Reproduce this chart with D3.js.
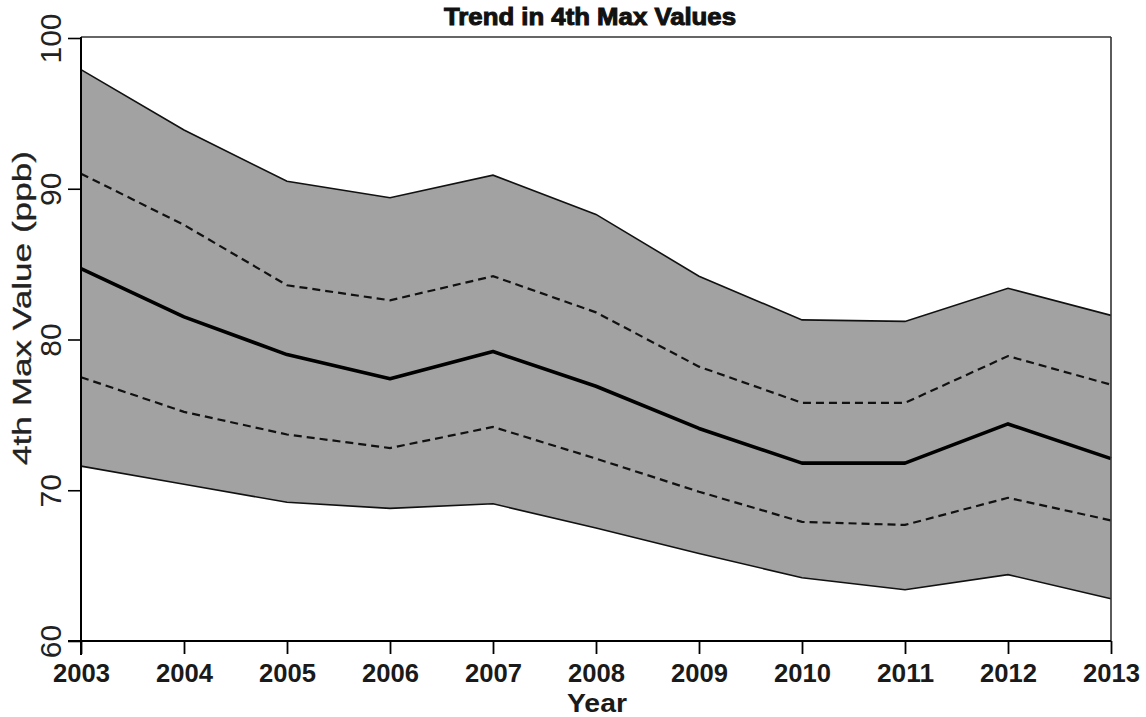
<!DOCTYPE html>
<html>
<head>
<meta charset="utf-8">
<script src="https://cdn.jsdelivr.net/npm/d3@7"></script>
<style>
  html, body { margin: 0; padding: 0; background: #fff; }
  svg { display: block; font-family: "Liberation Sans", Arial, sans-serif; }
</style>
</head>
<body>
<svg id="chart" width="1146" height="717"></svg>
<script>
// Yearly trend of the 4th maximum value with its confidence bands
const years    = [2003, 2004, 2005, 2006, 2007, 2008, 2009, 2010, 2011, 2012, 2013];
const upperPI  = [97.9, 93.9, 90.5, 89.4, 90.9, 88.3, 84.2, 81.3, 81.2, 83.4, 81.6];
const upperCI  = [91.0, 87.6, 83.6, 82.6, 84.2, 81.8, 78.2, 75.8, 75.8, 78.9, 77.0];
const trend    = [84.7, 81.5, 79.0, 77.4, 79.2, 76.9, 74.1, 71.8, 71.8, 74.4, 72.1];
const lowerCI  = [77.5, 75.2, 73.7, 72.8, 74.2, 72.1, 69.9, 67.9, 67.7, 69.5, 68.0];
const lowerPI  = [71.6, 70.4, 69.2, 68.8, 69.1, 67.5, 65.8, 64.2, 63.4, 64.4, 62.8];
const yTicks   = [60, 70, 80, 90, 100];
const xTicks   = years;

const titleText  = "Trend in 4th Max Values";
const xLabelText = "Year";
const yLabelText = "4th Max Value (ppb)";

const svg = d3.select("#chart");
const plotL = 81, plotR = 1111, plotT = 38, plotB = 641;

const x = d3.scaleLinear().domain([2003, 2013]).range([plotL, plotR]);
const y = d3.scaleLinear().domain([60, 100]).range([plotB, plotT]);

const rows = years.map((yr, i) => ({
  yr, up: upperPI[i], uc: upperCI[i], t: trend[i], lc: lowerCI[i], lo: lowerPI[i]
}));

// shaded prediction band
const area = d3.area().x(d => x(d.yr)).y0(d => y(d.lo)).y1(d => y(d.up));
svg.append("path").datum(rows).attr("d", area).attr("fill", "#a2a2a2");

const line = key => d3.line().x(d => x(d.yr)).y(d => y(d[key]));

// band edges
["up", "lo"].forEach(k => {
  svg.append("path").datum(rows).attr("d", line(k))
    .attr("fill", "none").attr("stroke", "#111").attr("stroke-width", 1.6);
});
// confidence interval (dashed)
["uc", "lc"].forEach(k => {
  svg.append("path").datum(rows).attr("d", line(k))
    .attr("fill", "none").attr("stroke", "#111").attr("stroke-width", 2.2)
    .attr("stroke-dasharray", "8,5");
});
// fitted trend
svg.append("path").datum(rows).attr("d", line("t"))
  .attr("fill", "none").attr("stroke", "#000").attr("stroke-width", 3.6)
  .attr("stroke-linejoin", "round");

// frame: top and right
svg.append("line").attr("x1", plotL).attr("x2", plotR).attr("y1", plotT - 1).attr("y2", plotT - 1)
  .attr("stroke", "#333").attr("stroke-width", 1.6);
svg.append("line").attr("x1", plotR).attr("x2", plotR).attr("y1", plotT - 1).attr("y2", plotB)
  .attr("stroke", "#333").attr("stroke-width", 1.6);

// y axis
const yAxis = svg.append("g").attr("transform", `translate(${plotL},0)`)
  .call(d3.axisLeft(y).tickValues(yTicks).tickSize(13).tickFormat(d3.format("d")));
yAxis.select(".domain").attr("stroke", "#000").attr("stroke-width", 2)
  .attr("d", `M0,${plotT - 1}V${plotB + 14}`);
yAxis.selectAll(".tick line").attr("stroke", "#000").attr("stroke-width", 1.6);
yAxis.selectAll(".tick text")
  .attr("x", null).attr("dy", null)
  .attr("transform", "translate(-20,0) rotate(-90)")
  .attr("text-anchor", "middle")
  .attr("font-size", 30).attr("fill", "#222")
  .attr("font-family", "Liberation Sans, Arial, sans-serif");

// x axis
const xAxis = svg.append("g").attr("transform", `translate(0,${plotB})`)
  .call(d3.axisBottom(x).tickValues(xTicks).tickSize(13).tickFormat(d3.format("d")));
xAxis.select(".domain").attr("stroke", "#000").attr("stroke-width", 2)
  .attr("d", `M${plotL - 13},0H${plotR}`);
xAxis.selectAll(".tick line").attr("stroke", "#000").attr("stroke-width", 1.8);
xAxis.selectAll(".tick text")
  .attr("y", 41).attr("dy", null)
  .attr("font-size", 26).attr("font-weight", "bold").attr("fill", "#1a1a1a")
  .attr("textLength", 57).attr("lengthAdjust", "spacingAndGlyphs")
  .attr("font-family", "Liberation Sans, Arial, sans-serif");

// title
svg.append("text").attr("x", 590).attr("y", 25).attr("text-anchor", "middle")
  .attr("font-size", 23.5).attr("font-weight", "bold").attr("fill", "#111")
  .attr("stroke", "#111").attr("stroke-width", 1)
  .attr("textLength", 292).attr("lengthAdjust", "spacingAndGlyphs")
  .text(titleText);

// axis titles
svg.append("text").attr("x", 597).attr("y", 712).attr("text-anchor", "middle")
  .attr("font-size", 25).attr("font-weight", "bold").attr("fill", "#1a1a1a")
  .attr("textLength", 60).attr("lengthAdjust", "spacingAndGlyphs")
  .text(xLabelText);

svg.append("text").attr("transform", "translate(31,308) rotate(-90)")
  .attr("text-anchor", "middle")
  .attr("font-size", 25).attr("fill", "#222")
  .attr("stroke", "#222").attr("stroke-width", 0.3)
  .attr("textLength", 314).attr("lengthAdjust", "spacingAndGlyphs")
  .text(yLabelText);
</script>
</body>
</html>
